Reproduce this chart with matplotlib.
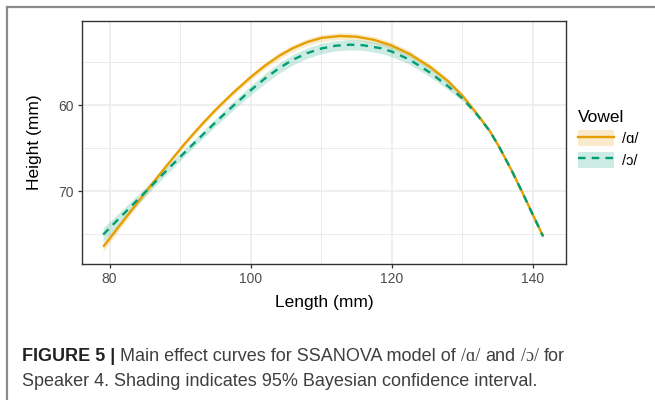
import numpy as np
import matplotlib.pyplot as plt
from matplotlib.patches import Patch
from matplotlib.lines import Line2D

# values
# /ɑ/ curve
length_a = [79.1, 82, 85.5, 88, 90.7, 93, 95, 97.5, 100, 102, 104.1, 106, 108, 110, 112.6,
            115, 117.5, 119.9, 122.5, 125.4, 128, 130.1, 132, 133.9, 135.3, 137, 138.6, 140, 141.45]
height_a = [76.49, 73.42, 69.7, 67.13, 64.43, 62.29, 60.55, 58.55, 56.72, 55.4, 54.2, 53.33, 52.63, 52.15, 51.92,
            52.0, 52.37, 53.0, 54.0, 55.5, 57.2, 58.95, 60.9, 63.0, 64.95, 67.6, 70.3, 72.75, 75.26]
ci_a = [0.55, 0.45, 0.35, 0.3, 0.3, 0.3, 0.3, 0.32, 0.35, 0.38, 0.4, 0.4, 0.4, 0.4, 0.4,
        0.4, 0.4, 0.4, 0.38, 0.35, 0.3, 0.25, 0.2, 0.18, 0.18, 0.18, 0.2, 0.22, 0.25]

# /ɔ/ curve
length_o = [79.1, 82, 85.5, 88, 91.4, 95, 97.5, 100, 102, 104.1, 106, 108, 110, 112, 114.1,
            116, 118.5, 120, 122.5, 125.4, 128, 130.1, 132, 133.9, 135.3, 137, 138.6, 140, 141.45]
height_o = [75.06, 72.65, 69.75, 67.67, 64.88, 62.0, 60.08, 58.25, 56.89, 55.63, 54.68, 53.92, 53.38, 53.06, 52.93,
            53.0, 53.35, 53.73, 54.66, 56.17, 57.78, 59.25, 61.0, 63.0, 64.95, 67.6, 70.3, 72.75, 75.26]
ci_o = [0.8, 0.65, 0.5, 0.45, 0.42, 0.45, 0.5, 0.55, 0.58, 0.6, 0.6, 0.6, 0.6, 0.6, 0.6,
        0.6, 0.6, 0.6, 0.55, 0.5, 0.4, 0.3, 0.25, 0.2, 0.18, 0.18, 0.2, 0.22, 0.25]

vowels = ['/ɑ/', '/ɔ/']
x_ticks = [80, 100, 120, 140]
y_ticks = [60, 70]

orange = '#E69F00'
green = '#009E73'
dash = (0, (3.2, 2.6))

plt.rcParams['font.family'] = ['Liberation Sans', 'DejaVu Sans']

fig = plt.figure(figsize=(6.55, 4.0), dpi=100)
W, H = 655, 400
ax = fig.add_axes([82 / W, 136 / H, 484 / W, 243 / H])

for xs, ys, ci, col in [(length_a, height_a, ci_a, orange), (length_o, height_o, ci_o, green)]:
    ys = np.array(ys)
    ci = np.array(ci)
    ax.fill_between(xs, ys - ci, ys + ci, color=col, alpha=0.2, lw=0)
for xs, ys, col, ls in [(length_a, height_a, orange, '-'), (length_o, height_o, green, dash)]:
    ax.plot(xs, ys, color=col, lw=1.7, ls=ls, solid_capstyle='butt')

ax.set_xlim(76.1, 144.7)
ax.set_ylim(78.49, 50.17)
ax.set_xticks(x_ticks)
ax.set_xticks([90, 110, 130], minor=True)
ax.set_yticks(y_ticks)
ax.set_yticks([55, 65, 75], minor=True)
ax.grid(which='major', color='#EBEBEB', lw=1.1)
ax.grid(which='minor', color='#EBEBEB', lw=0.7)
ax.set_axisbelow(True)
ax.tick_params(which='minor', length=0)
ax.tick_params(which='major', length=3, width=0.9, color='#333333',
               labelsize=10, labelcolor='#4D4D4D', pad=3)
for s in ax.spines.values():
    s.set_color('#333333')
    s.set_linewidth(1.0)

ax.set_xlabel('Length (mm)', fontsize=12.5, color='black', labelpad=6)
ax.set_ylabel('Height (mm)', fontsize=12.5, color='black', labelpad=12)

handles = [(Patch(facecolor=orange, alpha=0.2, edgecolor='none'), Line2D([], [], color=orange, lw=1.7)),
           (Patch(facecolor=green, alpha=0.2, edgecolor='none'), Line2D([], [], color=green, lw=1.7, ls=dash))]
fig.legend(handles, vowels, loc='upper left', bbox_to_anchor=(578 / W, 1 - 110 / H),
           frameon=False, title='Vowel', alignment='left', fontsize=10.5, title_fontsize=12.5,
           handlelength=2.5, handleheight=1.35, handletextpad=0.5, labelspacing=0.35,
           borderpad=0, borderaxespad=0)

# page border
fig.add_artist(Line2D([7 / W, 7 / W], [0, 1 - 7 / H], transform=fig.transFigure, color='#8c8c8c', lw=1.6))
fig.add_artist(Line2D([7 / W, 1], [1 - 7 / H, 1 - 7 / H], transform=fig.transFigure, color='#8c8c8c', lw=1.6))

# caption
renderer = fig.canvas.get_renderer()
cap_col = '#3f3f3f'
line2 = 'Speaker 4. Shading indicates 95% Bayesian confidence interval.'
probe = fig.text(0, 0, line2, fontsize=12)
w = probe.get_window_extent(renderer).width
probe.remove()
fs = 12 * 516 / w

pieces = [('FIGURE 5 |', 'bold', ['Liberation Sans', 'DejaVu Sans'], '#222222'),
          ('Main effect curves for SSANOVA model of', 'normal', ['Liberation Sans', 'DejaVu Sans'], cap_col),
          ('/ɑ/', 'normal', ['Liberation Serif', 'DejaVu Serif'], cap_col),
          ('and', 'normal', ['Liberation Sans', 'DejaVu Sans'], cap_col),
          ('/ɔ/', 'normal', ['Liberation Serif', 'DejaVu Serif'], cap_col),
          ('for', 'normal', ['Liberation Sans', 'DejaVu Sans'], cap_col)]
x = 22
gap = fs * 100 / 72 * 0.278
for s, wt, fam, col in pieces:
    t = fig.text(x / W, 1 - 361 / H, s, fontsize=fs, fontweight=wt, family=fam, color=col, va='baseline')
    x = t.get_window_extent(renderer).x1 + gap
fig.text(22 / W, 1 - 386 / H, line2, fontsize=fs, color=cap_col, va='baseline')

fig.savefig('out.png', dpi=100)
